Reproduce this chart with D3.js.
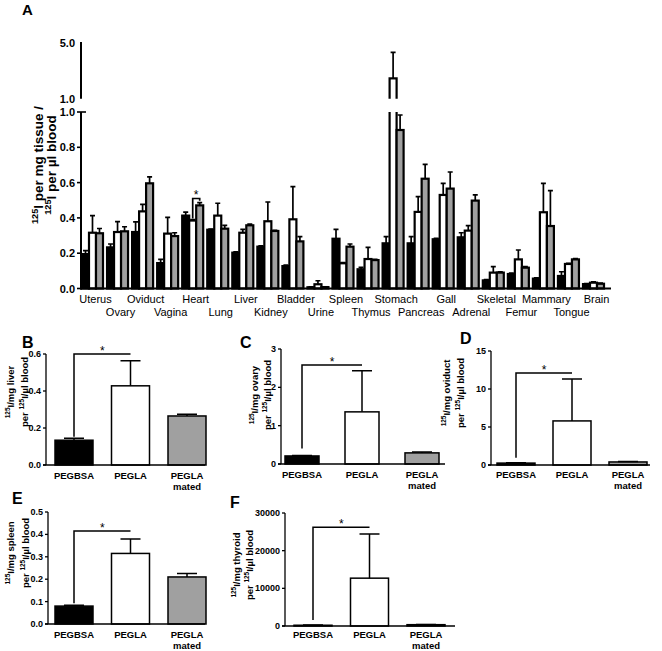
<!DOCTYPE html>
<html><head><meta charset="utf-8">
<script src="https://cdn.jsdelivr.net/npm/d3@7"></script>
<style>body{margin:0;background:#fff} svg{display:block} text{font-family:Arial,"Liberation Sans",sans-serif}</style>
</head><body><svg id="c" width="662" height="651"></svg>
<script>
// ---------- Panel A data ----------
const organs = ["Uterus","Ovary","Oviduct","Vagina","Heart","Lung","Liver","Kidney","Bladder","Urine","Spleen","Thymus","Stomach","Pancreas","Gall","Adrenal","Skeletal","Femur","Mammary","Tongue","Brain"];
const blackMean = [0.195,0.233,0.32,0.144,0.413,0.333,0.203,0.237,0.127,0.007,0.282,0.109,0.256,0.256,0.279,0.29,0.046,0.082,0.056,0.071,0.025];
const blackErr  = [0.02,0.019,0.057,0.021,0.02,0.004,0.004,0.004,0.006,0.002,0.053,0.011,0.038,0.038,0.005,0.026,0.004,0.005,0.004,0.024,0.003];
const whiteMean = [0.316,0.32,0.437,0.311,0.385,0.413,0.316,0.381,0.392,0.024,0.143,0.167,2.46,0.434,0.53,0.328,0.09,0.165,0.432,0.139,0.033];
const whiteErr  = [0.097,0.059,0.04,0.092,0.006,0.07,0.019,0.109,0.185,0.02,0.004,0.066,1.87,0.086,0.066,0.028,0.034,0.053,0.164,0.004,0.004];
const grayMean  = [0.313,0.324,0.596,0.297,0.471,0.339,0.358,0.326,0.267,0.008,0.237,0.161,0.898,0.622,0.566,0.498,0.09,0.118,0.354,0.165,0.027];
const grayErr   = [0.027,0.026,0.036,0.019,0.015,0.019,0.007,0.004,0.027,0.002,0.015,0.004,0.085,0.081,0.094,0.032,0.004,0.006,0.2,0.005,0.003];
const aLowTicks = [0,0.2,0.4,0.6,0.8,1.0];
const aHighTicks = [1.0,5.0];
const heartSig = 0.51;

// ---------- Panels B-F data ----------
const groups = ["PEGBSA","PEGLA","PEGLA mated"];
const liverMean = [0.134,0.428,0.265],  liverErr = [0.01,0.136,0.009],  liverTicks = [0,0.2,0.4,0.6],  liverSig = 0.6;
const ovaryMean = [0.21,1.36,0.29],     ovaryErr = [0.01,1.07,0.02],     ovaryTicks = [0,1,2,3],        ovarySig = 2.58;
const oviductMean = [0.25,5.8,0.4],     oviductErr = [0.05,5.5,0.05],    oviductTicks = [0,5,10,15],    oviductSig = 12.1;
const spleenMean = [0.08,0.315,0.21],   spleenErr = [0.004,0.065,0.015], spleenTicks = [0,0.1,0.2,0.3,0.4,0.5], spleenSig = 0.415;
const thyroidMean = [200,12700,350],    thyroidErr = [60,11700,80],      thyroidTicks = [0,10000,20000,30000], thyroidSig = 26200;

const svg = d3.select("#c");
const GRAY = "#a0a0a0";
const fills = ["#000","#fff",GRAY];

// ================= Panel A =================
svg.append("text").attr("x",22).attr("y",15).attr("font-size",15).attr("font-weight","bold").text("A");

const xg = d3.scaleBand().domain(organs).range([82,604]).paddingInner(0.162).paddingOuter(0).align(0);
const xs = d3.scaleBand().domain([0,1,2]).range([0,xg.bandwidth()]);
const yLow = d3.scaleLinear().domain([0,1]).range([288.5,112]);
const yHigh = d3.scaleLinear().domain([1,5]).range([98.7,43]);

const defs = svg.append("defs");
defs.append("clipPath").attr("id","clipLow").append("rect").attr("x",0).attr("y",yLow(1)).attr("width",662).attr("height",200);
defs.append("clipPath").attr("id","clipHigh").append("rect").attr("x",0).attr("y",30).attr("width",662).attr("height",yHigh(1)-30);

const gLow = svg.append("g").attr("clip-path","url(#clipLow)");
const gHigh = svg.append("g").attr("clip-path","url(#clipHigh)");
const gErr = svg.append("g").attr("stroke","#000").attr("stroke-width",1.7).attr("fill","none");

const seriesM = [blackMean,whiteMean,grayMean];
const seriesE = [blackErr,whiteErr,grayErr];
organs.forEach((o,i)=>{
  [0,1,2].forEach(s=>{
    const m = seriesM[s][i], e = seriesE[s][i];
    const x = xg(o)+xs(s), w = xs.bandwidth(), cx = x+w/2;
    const topLow = m>1 ? yLow(1)-5 : yLow(m);
    gLow.append("rect").attr("x",x).attr("y",topLow).attr("width",w).attr("height",yLow(0)-topLow)
      .attr("fill",fills[s]).attr("stroke","#000").attr("stroke-width",2.2);
    if(m>1){
      gHigh.append("rect").attr("x",x).attr("y",yHigh(m)).attr("width",w).attr("height",yHigh(1)+5-yHigh(m))
        .attr("fill",fills[s]).attr("stroke","#000").attr("stroke-width",2.2);
      gErr.append("path").attr("d",`M${cx},${yHigh(m)}V${yHigh(m+e)}M${cx-2.5},${yHigh(m+e)}H${cx+2.5}`);
    } else {
      gErr.append("path").attr("d",`M${cx},${yLow(m)}V${yLow(m+e)}M${cx-2.5},${yLow(m+e)}H${cx+2.5}`);
    }
  });
});
// heart significance
{
  const i = organs.indexOf("Heart");
  const cw = xg("Heart")+xs(1)+xs.bandwidth()/2, cgr = xg("Heart")+xs(2)+xs.bandwidth()/2;
  gErr.append("path").attr("d",`M${cw},${yLow(whiteMean[i]+whiteErr[i])-1}V${yLow(heartSig)}H${cgr}V${yLow(grayMean[i]+grayErr[i])-2}`);
  svg.append("text").attr("x",(cw+cgr)/2).attr("y",yLow(heartSig)+1).attr("text-anchor","middle").attr("font-size",12).text("*");
}
// axes A
const ax = svg.append("g").attr("stroke","#000").attr("fill","none");
ax.append("line").attr("x1",81).attr("x2",81).attr("y1",yLow(1)).attr("y2",yLow(0)+1).attr("stroke-width",2);
ax.append("line").attr("x1",80).attr("x2",611).attr("y1",yLow(0)).attr("y2",yLow(0)).attr("stroke-width",2);
ax.append("line").attr("x1",81).attr("x2",81).attr("y1",yHigh(5)-1).attr("y2",yHigh(1)).attr("stroke-width",2);
aLowTicks.forEach(t=>{
  ax.append("line").attr("x1",77).attr("x2",t===1?86:81).attr("y1",yLow(t)).attr("y2",yLow(t)).attr("stroke-width",1.6);
  svg.append("text").attr("x",75).attr("y",yLow(t)+4).attr("text-anchor","end").attr("font-size",11).attr("font-weight","bold").text(d3.format(".1f")(t));
});
aHighTicks.forEach(t=>{
  svg.append("text").attr("x",75).attr("y",yHigh(t)+4).attr("text-anchor","end").attr("font-size",11).attr("font-weight","bold").text(d3.format(".1f")(t));
});
organs.forEach((o,i)=>{
  svg.append("text").attr("x",xg(o)+xg.bandwidth()/2+3).attr("y",i%2===0?303:316).attr("text-anchor","middle").attr("font-size",11).text(o);
});
function supLabel(parent, x, y, pieces, size){
  const t = parent.append("text").attr("transform",`translate(${x},${y}) rotate(-90)`).attr("text-anchor","middle")
    .attr("font-size",size).attr("font-weight","bold");
  let up = false;
  pieces.forEach(([s,sup])=>{
    const ts = t.append("tspan").text(s);
    if(sup){ ts.attr("font-size",size*0.68).attr("dy",-size*0.38); up = true; }
    else if(up){ ts.attr("dy",size*0.38); up = false; }
  });
  return t;
}
supLabel(svg,43,165,[["125",true],["I per mg tissue /",false]],13.5);
supLabel(svg,56,165,[["125",true],["I per \u00b5l blood",false]],13.5);

// ================= Panels B-F =================
function panel(cfg, means, errs, ticks, fmt, sig, tissue){
  const g = svg.append("g");
  const x = d3.scaleBand().domain(groups).range([cfg.c0-cfg.step/2, cfg.c0-cfg.step/2+3*cfg.step])
    .paddingInner(1-cfg.bw/cfg.step).paddingOuter((1-cfg.bw/cfg.step)/2);
  const y = d3.scaleLinear().domain([0,ticks[ticks.length-1]]).range([cfg.yZero,cfg.yTop]);
  g.append("text").attr("x",cfg.lx).attr("y",cfg.ly).attr("font-size",16).attr("font-weight","bold").text(cfg.letter);
  groups.forEach((k,i)=>{
    g.append("rect").attr("x",x(k)).attr("y",y(means[i])).attr("width",x.bandwidth()).attr("height",y(0)-y(means[i]))
      .attr("fill",fills[i]).attr("stroke","#000").attr("stroke-width",1.5);
    const cx = x(k)+x.bandwidth()/2;
    g.append("path").attr("fill","none").attr("stroke","#000").attr("stroke-width",1.5)
      .attr("d",`M${cx},${y(means[i])}V${y(means[i]+errs[i])}M${cx-10},${y(means[i]+errs[i])}H${cx+10}`);
  });
  const cb = x(groups[0])+x.bandwidth()/2, cw = x(groups[1])+x.bandwidth()/2;
  g.append("path").attr("fill","none").attr("stroke","#000").attr("stroke-width",1.5)
    .attr("d",`M${cb},${y(means[0]+errs[0])-cfg.gap}V${y(sig)}H${cw}`);
  g.append("text").attr("x",(cb+cw)/2).attr("y",y(sig)+1).attr("text-anchor","middle").attr("font-size",12).text("*");
  g.append("line").attr("x1",cfg.ax).attr("x2",cfg.ax).attr("y1",y(ticks[ticks.length-1])).attr("y2",y(0)).attr("stroke","#000").attr("stroke-width",1.3);
  g.append("line").attr("x1",cfg.ax-3).attr("x2",cfg.xEnd).attr("y1",y(0)).attr("y2",y(0)).attr("stroke","#000").attr("stroke-width",1.3);
  ticks.forEach(t=>{
    g.append("line").attr("x1",cfg.ax-3).attr("x2",cfg.ax).attr("y1",y(t)).attr("y2",y(t)).attr("stroke","#000").attr("stroke-width",1.3);
    g.append("text").attr("x",cfg.ax-5).attr("y",y(t)+3).attr("text-anchor","end").attr("font-size",9).attr("font-weight","bold").text(fmt(t));
  });
  groups.forEach(k=>{
    const cx = x(k)+x.bandwidth()/2;
    const parts = k.split(" ");
    const t = g.append("text").attr("text-anchor","middle").attr("font-size",9.5).attr("font-weight","bold");
    parts.forEach((p,j)=> t.append("tspan").attr("x",cx).attr("y",cfg.xly+j*11).text(p));
  });
  supLabel(g,cfg.t1,cfg.ty,[["125",true],["I/mg "+tissue,false]],9.5);
  supLabel(g,cfg.t2,cfg.ty,[["per ",false],["125",true],["I/\u00b5l blood",false]],9.5);
}
const f1 = d3.format(".1f"), f0 = d3.format("d");
panel({letter:"B",lx:22,ly:348,ax:46,yZero:465,yTop:354,xEnd:205,c0:74,step:56.5,bw:38,xly:479,t1:14,t2:28,ty:392,gap:1.5},
  liverMean,liverErr,liverTicks,f1,liverSig,"liver");
panel({letter:"C",lx:240,ly:348,ax:281,yZero:464,yTop:349,xEnd:445,c0:302,step:60,bw:34,xly:478,t1:258,t2:271,ty:395,gap:7},
  ovaryMean,ovaryErr,ovaryTicks,f0,ovarySig,"ovary");
panel({letter:"D",lx:460,ly:344,ax:491,yZero:465,yTop:351,xEnd:650,c0:516,step:56,bw:38,xly:478,t1:450,t2:464,ty:393,gap:5},
  oviductMean,oviductErr,oviductTicks,f0,oviductSig,"oviduct");
panel({letter:"E",lx:12,ly:504,ax:48,yZero:624,yTop:512,xEnd:205,c0:74,step:56.5,bw:38,xly:638,t1:14,t2:29,ty:553,gap:2},
  spleenMean,spleenErr,spleenTicks,f1,spleenSig,"spleen");
panel({letter:"F",lx:230,ly:508,ax:285,yZero:626,yTop:513,xEnd:455,c0:313,step:56.5,bw:38,xly:638,t1:240,t2:253,ty:565,gap:5},
  thyroidMean,thyroidErr,thyroidTicks,f0,thyroidSig,"thyroid");
</script></body></html>
